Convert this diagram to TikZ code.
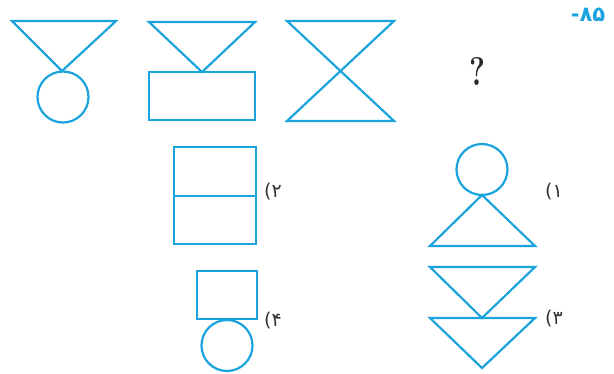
\documentclass[tikz,border=0pt]{standalone}
\usepackage{fontspec}
\usepackage{xcolor}
\newfontfamily\persfont{DejaVu Sans}
\definecolor{figblue}{RGB}{27,163,222}

\begin{document}
\begin{tikzpicture}[x=1pt, y={(0,-1pt)},
  fig/.style={draw=figblue, line width=2.2pt, line join=miter},
  lbl/.style={font=\persfont\fontsize{19}{21}\selectfont, inner sep=0pt, text=black!80}
]
\useasboundingbox (0,0) rectangle (614,374);
% question row
\draw[fig] (12,21) -- (116,21) -- (62,71) -- cycle;
\draw[fig] (63,97) circle (25.5);
\draw[fig] (149,22) -- (255,22) -- (202,72) -- cycle;
\draw[fig] (149,72) rectangle (255,120);
\draw[fig] (287,21) -- (394,21) -- (287,121) -- (394,121) -- cycle;
\node[font=\bfseries\fontsize{40}{42}\selectfont, inner sep=0pt, xscale=0.75, text=black!85] (qmark) at (477,72) {?};
\node[font=\persfont\bfseries\fontsize{21}{23}\selectfont, text=figblue, inner sep=0pt] (num) at (588,15) {-۸۵};
% choices
\draw[fig] (482,169.5) circle (25.5);
\draw[fig] (482,195) -- (535,246) -- (430,246) -- cycle;
\node[lbl] (c1) at (554,192) {(۱};
\draw[fig] (174,147) rectangle (256,244);
\draw[fig] (174,196) -- (256,196);
\node[lbl] (c2) at (273,192) {(۲};
\draw[fig] (430,267) -- (535,267) -- (482,318) -- cycle;
\draw[fig] (430,318) -- (535,318) -- (482,368) -- cycle;
\node[lbl] (c3) at (554,319) {(۳};
\draw[fig] (197,271) rectangle (257,319);
\draw[fig] (227,345.5) circle (25.5);
\node[lbl] (c4) at (273,321) {(۴};
\end{tikzpicture}
\end{document}
